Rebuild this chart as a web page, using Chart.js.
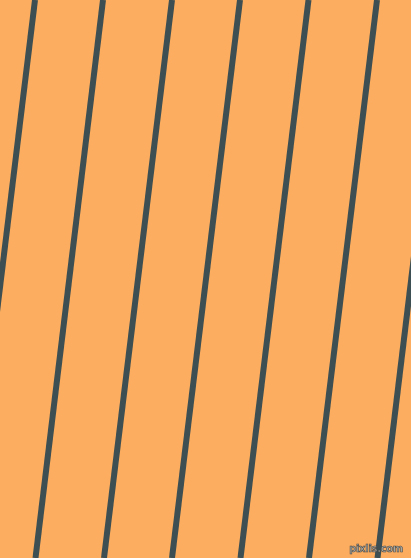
<!DOCTYPE html>
<html>
<head>
<meta charset="utf-8">
<script src="https://cdn.jsdelivr.net/npm/chart.js@4"></script>
<style>
    html, body { margin: 0; padding: 0; background: #fcad5f; overflow: hidden; }
    #wrap { position: relative; width: 411px; height: 558px; }
    #stripes { display: block; }
    #mark {
        position: absolute; right: 8px; bottom: 4px;
        font: bold 10px "DejaVu Sans", sans-serif;
        color: #a8a8a0;
        -webkit-text-stroke: 0.6px #4a4a4a;
        letter-spacing: -0.3px;
    }
</style>
</head>
<body>
<div id="wrap">
    <canvas id="stripes" width="411" height="558"></canvas>
    <div id="mark">pixlis.com</div>
</div>
<script>
// x-позиция каждой полосы сверху (y = 0) и снизу (y = 558)
const topX = [-33, 35, 103, 172, 240, 308.5, 377, 445];
const bottomX = [-101, -33, 35.5, 104, 172, 240.5, 309, 377.5];
const yRange = [0, 558];
const xRange = [0, 411];

const bgColor = '#fcad5f';
const lineColor = '#3d4f52';

const datasets = topX.map((x, i) => ({
    data: [{ x: x, y: yRange[0] }, { x: bottomX[i], y: yRange[1] }],
    borderColor: lineColor,
    borderWidth: 6,
    pointRadius: 0,
    fill: false,
    tension: 0
}));

document.addEventListener('DOMContentLoaded', () => {
    const ctx = document.getElementById('stripes').getContext('2d');
    new Chart(ctx, {
        type: 'line',
        data: { datasets: datasets },
        options: {
            responsive: false,
            animation: false,
            layout: { padding: 0 },
            plugins: { legend: { display: false }, tooltip: { enabled: false } },
            scales: {
                x: { type: 'linear', min: xRange[0], max: xRange[1], display: false },
                y: { type: 'linear', min: yRange[0], max: yRange[1], reverse: true, display: false }
            }
        },
        plugins: [{
            id: 'bg',
            beforeDraw(chart) {
                const c = chart.ctx;
                c.save();
                c.fillStyle = bgColor;
                c.fillRect(0, 0, chart.width, chart.height);
                c.restore();
            }
        }]
    });
});
</script>
</body>
</html>
